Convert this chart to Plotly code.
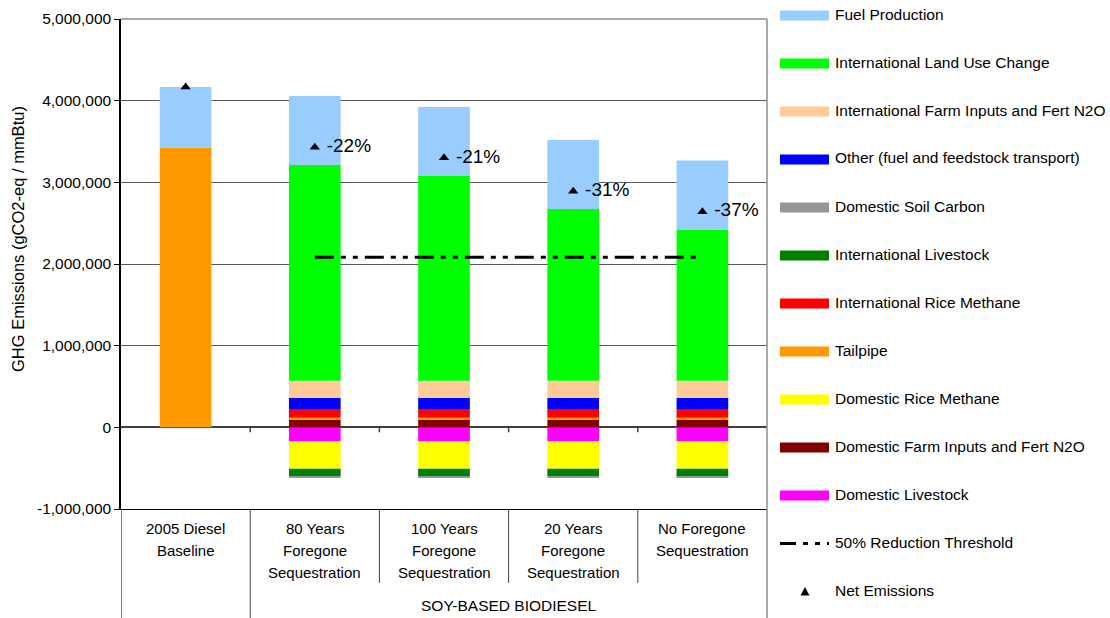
import plotly.graph_objects as go

# ---------------- data ----------------
categories = ["2005 Diesel\nBaseline",
              "80 Years\nForegone\nSequestration",
              "100 Years\nForegone\nSequestration",
              "20 Years\nForegone\nSequestration",
              "No Foregone\nSequestration"]
group_label = "SOY-BASED BIODIESEL"

dom_livestock = [0, -174000, -174000, -174000, -174000]
dom_farm = [0, 92000, 92000, 92000, 92000]
dom_rice = [0, -334000, -334000, -334000, -334000]
tailpipe = [3425000, 24000, 24000, 24000, 24000]
intl_rice = [0, 98000, 98000, 98000, 98000]
intl_livestock = [0, -94000, -94000, -94000, -94000]
dom_soil = [0, -16000, -16000, -16000, -16000]
other_transport = [0, 147000, 147000, 147000, 147000]
intl_farm = [0, 208000, 208000, 208000, 208000]
intl_luc = [0, 2644000, 2509000, 2105000, 1852000]
fuel_production = [743000, 845000, 845000, 845000, 845000]

net_emissions = [4168000, 3430000, 3300000, 2890000, 2640000]
net_labels = ["", "-22%", "-21%", "-31%", "-37%"]
threshold_value = 2084000
threshold_span = [1, 4]

y_ticks = [-1000000, 0, 1000000, 2000000, 3000000, 4000000, 5000000]
y_tick_text = [f"{v:,}" for v in y_ticks]

# stacking order (bottom first) with colours
series = [
    ("Domestic Livestock", dom_livestock, "#FF00FF"),
    ("Domestic Farm Inputs and Fert N2O", dom_farm, "#800000"),
    ("Domestic Rice Methane", dom_rice, "#FFFF00"),
    ("Tailpipe", tailpipe, "#FF9900"),
    ("International Rice Methane", intl_rice, "#FF0000"),
    ("International Livestock", intl_livestock, "#008000"),
    ("Domestic Soil Carbon", dom_soil, "#969696"),
    ("Other (fuel and feedstock transport)", other_transport, "#0000FF"),
    ("International Farm Inputs and Fert N2O", intl_farm, "#FFCC99"),
    ("International Land Use Change", intl_luc, "#00FF00"),
    ("Fuel Production", fuel_production, "#99CCFF"),
]

FONT = "Liberation Sans, Arial, sans-serif"
W, H = 1110, 618
L, R, T, B = 121, 343, 19, 109
PW, PH = W - L - R, H - T - B


def px(x):
    return (x - L) / PW


def py(y):
    return (H - B - y) / PH


x_idx = list(range(len(categories)))

fig = go.Figure()
for name, vals, col in series:
    fig.add_trace(go.Bar(x=x_idx, y=vals, name=name, width=0.4,
                         marker=dict(color=col, line=dict(width=0)),
                         showlegend=False))

fig.add_trace(go.Scatter(x=threshold_span, y=[threshold_value] * 2, mode="lines",
                         line=dict(color="black", width=3,
                                   dash="19px,7px,5px,7px,5px,7px"),
                         showlegend=False, name="50% Reduction Threshold"))

fig.add_trace(go.Scatter(x=x_idx, y=net_emissions, mode="markers+text",
                         text=["\u00a0" + t if t else "" for t in net_labels],
                         textposition="middle right",
                         textfont=dict(family=FONT, size=19, color="black"),
                         marker=dict(symbol="triangle-up", size=9, color="black"),
                         showlegend=False, name="Net Emissions"))

shapes = []
# top and right plot border
shapes.append(dict(type="line", xref="paper", yref="paper", x0=0, x1=1, y0=1, y1=1,
                   line=dict(color="#8c8c8c", width=1.5), layer="above"))
shapes.append(dict(type="line", xref="paper", yref="paper", x0=1, x1=1, y0=1, y1=py(H),
                   line=dict(color="#8c8c8c", width=1.5), layer="above"))
# left axis extension and category separators below the plot
n = len(categories)
for k in range(n):
    xb = k - 0.5
    ybot = py(H) if k in (0, 1) else py(583)
    shapes.append(dict(type="line", xref="x", yref="paper", x0=xb, x1=xb, y0=0, y1=ybot,
                       line=dict(color="#404040" if k else "black", width=1)))
# small ticks on the zero line
for k in range(1, n):
    shapes.append(dict(type="line", xref="x", yref="y", ysizemode="pixel", yanchor=0,
                       x0=k - 0.5, x1=k - 0.5, y0=0, y1=-5,
                       line=dict(color="#404040", width=1.5)))

annotations = []
# category labels
for i, cat in enumerate(categories):
    for j, line in enumerate(cat.split("\n")):
        annotations.append(dict(x=i, xref="x", y=py(528 + 22 * j), yref="paper",
                                text=line, showarrow=False, xanchor="center",
                                yanchor="middle",
                                font=dict(family=FONT, size=15, color="black")))
annotations.append(dict(x=2.5, xref="x", y=py(605), yref="paper", text=group_label,
                        showarrow=False, xanchor="center", yanchor="middle",
                        font=dict(family=FONT, size=15.5, color="black")))
# y axis title
annotations.append(dict(x=px(18), xref="paper", y=py(239), yref="paper",
                        text="GHG Emissions (gCO2-eq / mmBtu)", textangle=-90,
                        showarrow=False, xanchor="center", yanchor="middle",
                        font=dict(family=FONT, size=16.5, color="black")))

# manual legend
legend_rows = [(s[0], s[2]) for s in reversed(series)]
for i, (name, col) in enumerate(legend_rows + [("50% Reduction Threshold", None),
                                                ("Net Emissions", None)]):
    yc = 15.5 + 48 * i
    if name == "50% Reduction Threshold":
        shapes.append(dict(type="line", xref="paper", yref="paper",
                           x0=px(780), x1=px(829), y0=py(yc), y1=py(yc),
                           line=dict(color="black", width=3,
                                     dash="16px,7px,5px,7px,5px,7px")))
    elif name == "Net Emissions":
        shapes.append(dict(type="path", xref="paper", yref="paper",
                           path="M {} {} L {} {} L {} {} Z".format(
                               px(800.5), py(yc + 4), px(809.5), py(yc + 4),
                               px(805), py(yc - 4.5)),
                           fillcolor="black", line=dict(width=0)))
    else:
        shapes.append(dict(type="rect", xref="paper", yref="paper",
                           x0=px(780), x1=px(829), y0=py(yc - 5), y1=py(yc + 5),
                           fillcolor=col, line=dict(width=0)))
    annotations.append(dict(x=px(833), xref="paper", y=py(yc - 1.5), yref="paper",
                            text=name, showarrow=False, xanchor="left",
                            yanchor="middle",
                            font=dict(family=FONT, size=15.5, color="black")))

fig.update_layout(
    width=W, height=H,
    margin=dict(l=L, r=R, t=T, b=B, autoexpand=False),
    barmode="relative",
    bargap=0.6,
    plot_bgcolor="white", paper_bgcolor="white",
    font=dict(family=FONT, size=15, color="black"),
    xaxis=dict(range=[-0.5, n - 0.5], showticklabels=False, showgrid=False,
               zeroline=False, showline=True, linecolor="black", linewidth=1,
               ticks=""),
    yaxis=dict(range=[-1000000, 5000000], tickvals=y_ticks, ticktext=y_tick_text,
               showgrid=True, gridcolor="#595959", gridwidth=1,
               zeroline=True, zerolinecolor="#404040", zerolinewidth=2,
               showline=True, linecolor="black", linewidth=1.5,
               ticks="outside", ticklen=5, tickcolor="black",
               tickfont=dict(family=FONT, size=15.5, color="black")),
    shapes=shapes,
    annotations=annotations,
    showlegend=False,
)

fig.write_html("out.html",
               config={"displayModeBar": False},
               post_script="document.body.style.margin='0';"
                           "document.body.style.overflow='hidden';")
